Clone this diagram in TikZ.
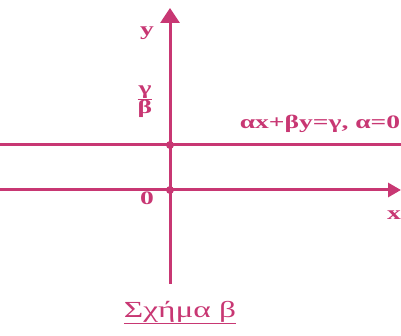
\documentclass[tikz,border=0pt]{standalone}
\usepackage{fontspec}
\setmainfont{Liberation Serif}
\usetikzlibrary{arrows.meta}
\definecolor{pk}{RGB}{200,55,115}
\newcommand{\widetxt}[1]{\scalebox{1.45}[1]{#1}}
\begin{document}
\begin{tikzpicture}[x=1pt,y=-1pt,
  ax/.style={draw=pk,line width=3pt},
  lbl/.style={text=pk,font=\bfseries\fontsize{19}{21}\selectfont,inner sep=0pt,anchor=base},
  dot/.style={circle,fill=pk,inner sep=0pt,minimum size=8pt}]
\useasboundingbox (0,0) rectangle (401,336);
\coordinate (xl) at (0,190);
\coordinate (xr) at (401,190);
\coordinate (yb) at (170,284);
\coordinate (yt) at (170,8);
\coordinate (hl) at (0,145);
\coordinate (hr) at (401,145);
\draw[ax,-{Triangle[length=13pt,width=14pt]}] (xl) -- (xr);
\draw[ax,-{Triangle[length=15pt,width=19pt]}] (yb) -- (yt);
\draw[draw=pk,line width=3pt] (hl) -- (hr);
\node[dot] (o) at (170,190) {};
\node[dot] (p) at (170,145) {};
\node[lbl] (ly) at (147,36) {\widetxt{y}};
\node[lbl,anchor=center] (lg) at (145,100) {\widetxt{\setlength{\tabcolsep}{0pt}\renewcommand{\arraystretch}{0.85}\begin{tabular}{c}γ\\\hline β\end{tabular}}};
\node[lbl] (leq) at (320,129) {\widetxt{αx+βy=γ, α=0}};
\node[lbl] (l0) at (147,205) {\widetxt{0}};
\node[lbl] (lx) at (394,220) {\widetxt{x}};
\node[text=pk,font=\fontsize{23}{25}\selectfont,inner sep=0pt,anchor=base] (cap) at (180,317) {\widetxt{\underline{Σχήμα β}}};
\end{tikzpicture}
\end{document}
